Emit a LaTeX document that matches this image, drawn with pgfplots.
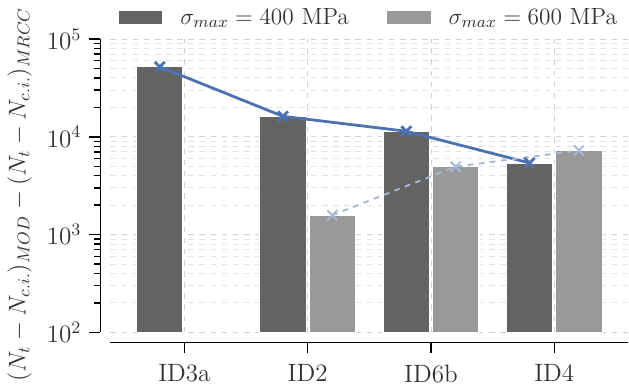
\documentclass[border=0pt,12pt]{standalone}
\usepackage{fix-cm}
\usepackage{pgfplots}
\pgfplotsset{compat=1.18}
\definecolor{darkbar}{HTML}{636363}
\definecolor{lightbar}{HTML}{999999}
\definecolor{sblue}{HTML}{4C72B0}
\definecolor{lblue}{HTML}{A5B8D8}
\newcommand{\ff}{\fontsize{13.5}{16}\selectfont}
\newcommand{\yf}{\fontsize{13.1}{16}\selectfont}
\newcommand{\lf}{\fontsize{12.6}{15}\selectfont}
\begin{document}
\begin{tikzpicture}[font=\ff]
\begin{axis}[
  scale only axis,
  width=279pt, height=158pt,
  xmin=-0.6, xmax=3.6,
  ymode=log, ymin=100, ymax=100000,
  log origin=infty,
  xtick={0,1,2,3},
  xticklabels={ID3a,ID2,ID6b,ID4},
  minor xtick={},
  ytick={100,1000,10000,100000},
  axis x line*=bottom, axis y line*=left,
  x axis line style={yshift=-5.4pt,-},
  y axis line style={xshift=-5.4pt,-},
  xtick style={yshift=-5.4pt, black, line width=0.8pt},
  ytick style={xshift=-5.4pt, black, line width=0.8pt},
  xticklabel shift=7.2pt, yticklabel shift=5.4pt,
  tick align=outside,
  major tick length=6pt, minor tick length=3.5pt,
  axis line style={line width=0.8pt},
  grid=both,
  major grid style={dashed, gray!35, line width=0.5pt},
  minor grid style={dashed, gray!22, line width=0.5pt},
  tick label style={text=black!80, font=\ff},
  ylabel={$(N_t - N_{c.i.})_{MOD} - (N_t - N_{c.i.})_{MRCC}$},
  ylabel style={text=black!80, font=\yf, at={(ticklabel cs:0.47)}},
  legend style={at={(0.5,1)}, anchor=south, yshift=2pt, draw=none, fill=none,
    legend columns=2, /tikz/every even column/.append style={column sep=18pt},
    /tikz/every odd column/.append style={column sep=7pt},
    text=black!80, font=\lf},
  legend image code/.code={\fill[#1] (0pt,-3.85pt) rectangle (24pt,3.85pt);},
]
\addplot[ybar, bar width=0.38, bar shift=-0.2, fill=darkbar, draw=white, line width=0.7pt]
  coordinates {(0,52000) (1,16200) (2,11400) (3,5400)};
\addlegendentry{$\sigma_{max} = 400$ MPa}
\addplot[ybar, bar width=0.38, bar shift=0.2, fill=lightbar, draw=white, line width=0.7pt]
  coordinates {(1,1580) (2,4950) (3,7250)};
\addlegendentry{$\sigma_{max} = 600$ MPa}
\addplot[forget plot, sblue, line width=1.5pt, mark=x, mark size=3.8pt, mark options={solid}]
  coordinates {(-0.2,52000) (0.8,16200) (1.8,11400) (2.8,5400)};
\addplot[forget plot, lblue, line width=1pt, dashed, mark=x, mark size=3.8pt, mark options={solid}]
  coordinates {(1.2,1580) (2.2,4950) (3.2,7250)};
\end{axis}
\end{tikzpicture}
\end{document}
